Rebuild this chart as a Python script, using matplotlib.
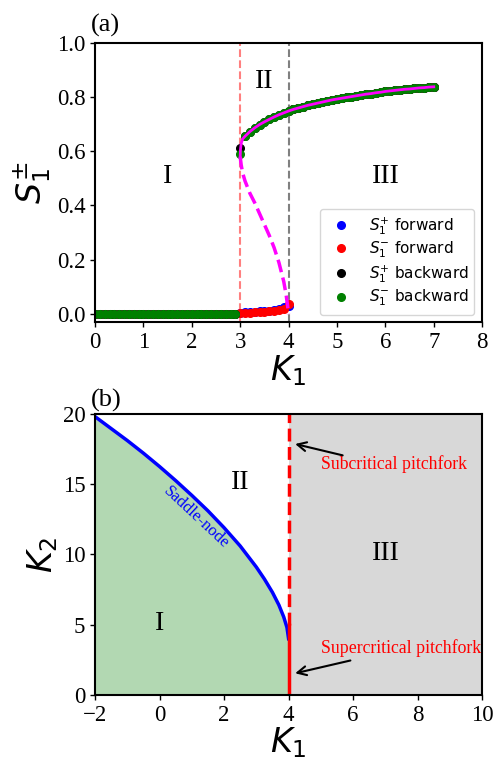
import matplotlib
matplotlib.use('Agg')
import matplotlib.pyplot as plt

# ---- panel (a): order parameter vs K1 ----
k_grid = [0.0, 0.1, 0.2, 0.3, 0.4, 0.5, 0.6, 0.7, 0.8, 0.9,
          1.0, 1.1, 1.2, 1.3, 1.4, 1.5, 1.6, 1.7, 1.8, 1.9,
          2.0, 2.1, 2.2, 2.3, 2.4, 2.5, 2.6, 2.7, 2.8, 2.9,
          3.0, 3.1, 3.2, 3.3, 3.4, 3.5, 3.6, 3.7, 3.8, 3.9,
          4.0, 4.1, 4.2, 4.3, 4.4, 4.5, 4.6, 4.7, 4.8, 4.9,
          5.0, 5.1, 5.2, 5.3, 5.4, 5.5, 5.6, 5.7, 5.8, 5.9,
          6.0, 6.1, 6.2, 6.3, 6.4, 6.5, 6.6, 6.7, 6.8, 6.9, 7.0]

# upper (synchronised) branch, K1 = 3.0 ... 7.0
s_upper = [0.600, 0.655, 0.672, 0.686, 0.698, 0.708, 0.717, 0.726, 0.734, 0.741,
           0.748, 0.754, 0.759, 0.764, 0.769, 0.773, 0.777, 0.781, 0.785, 0.789,
           0.792, 0.795, 0.798, 0.801, 0.804, 0.807, 0.810, 0.812, 0.815, 0.817,
           0.820, 0.822, 0.824, 0.826, 0.828, 0.829, 0.831, 0.833, 0.834, 0.836, 0.837]
# forward sweep, lower branch, K1 = 3.0 ... 4.0
s_plus_fwd_low = [0.004, 0.006, 0.007, 0.008, 0.010, 0.011, 0.013, 0.016, 0.019, 0.026, 0.030]
s_minus_fwd_low = [0.003, 0.004, 0.005, 0.006, 0.007, 0.008, 0.010, 0.012, 0.015, 0.020, 0.038]
s_plus_fold, s_minus_fold = 0.61, 0.59
n_zero = 30  # K1 = 0.0 ... 2.9 all at zero

s_plus_fwd = [0.0] * n_zero + s_plus_fwd_low + s_upper[11:]
s_minus_fwd = [0.0] * n_zero + s_minus_fwd_low + s_upper[11:]
s_plus_bwd = [0.0] * n_zero + [s_plus_fold] + s_upper[1:]
s_minus_bwd = [0.0] * n_zero + [s_minus_fold] + s_upper[1:]

# theory: stable upper branch and unstable branch
k_fold = [3.0, 3.005, 3.02, 3.05]
s_fold = [0.58, 0.605, 0.628, 0.645]
k_unst = [3.0, 3.02, 3.05, 3.1, 3.2, 3.3, 3.4, 3.5, 3.6, 3.7, 3.8, 3.9, 3.95, 3.98, 4.0]
s_unst = [0.58, 0.55, 0.52, 0.49, 0.445, 0.41, 0.37, 0.33, 0.29, 0.245, 0.19, 0.12, 0.07, 0.03, 0.0]

# ---- panel (b): phase diagram ----
k1_sn = [-2.0, -1.5, -1.0, -0.5, 0.0, 0.5, 1.0, 1.5, 2.0, 2.5, 3.0, 3.25, 3.5, 3.7, 3.85, 3.95, 4.0]
k2_sn = [19.8, 18.95, 18.1, 17.2, 16.25, 15.25, 14.2, 13.1, 11.9, 10.6, 9.1, 8.25, 7.3, 6.4, 5.55, 4.8, 4.0]
k1_pitch = 4.0
k2_sub = [5.0, 20.0]
k2_super = [0.0, 5.0]

serif = 'Liberation Serif'
tick_fs = 16.5

fig = plt.figure(figsize=(4.95, 7.6), dpi=100)
ax1 = fig.add_axes([0.192, 0.576, 0.782, 0.368])
ax2 = fig.add_axes([0.192, 0.0855, 0.782, 0.370])

for ax in (ax1, ax2):
    for sp in ax.spines.values():
        sp.set_linewidth(1.5)
    ax.tick_params(width=1.0)

# (a)
ax1.axvline(3, color='red', alpha=0.5, ls='--', lw=1.5)
ax1.axvline(4, color='gray', ls='--', lw=1.5)
ms = 5.5
ax1.plot(k_grid, s_plus_fwd, 'o', ls='none', color='blue', ms=ms, label='$S_1^{+}$ forward')
ax1.plot(k_grid, s_minus_fwd, 'o', ls='none', color='red', ms=ms, label='$S_1^{-}$ forward')
ax1.plot(k_grid[::-1], s_plus_bwd[::-1], 'o', ls='none', color='black', ms=ms, label='$S_1^{+}$ backward')
ax1.plot(k_grid[::-1], s_minus_bwd[::-1], 'o', ls='none', color='green', ms=ms, label='$S_1^{-}$ backward')
ax1.plot(k_fold + k_grid[31:], s_fold + s_upper[1:], color='magenta', lw=2)
ax1.plot(k_unst, s_unst, color='magenta', ls='--', lw=2.5)
ax1.set_xlim(0, 8)
ax1.set_ylim(-0.03, 1.0)
ax1.set_xticks(range(0, 9))
ax1.set_yticks([0.0, 0.2, 0.4, 0.6, 0.8, 1.0])
ax1.set_xticklabels([str(v) for v in range(0, 9)], fontfamily=serif, fontsize=tick_fs)
ax1.set_yticklabels(['0.0', '0.2', '0.4', '0.6', '0.8', '1.0'], fontfamily=serif, fontsize=tick_fs)
ax1.set_xlabel('$K_1$', fontsize=24, labelpad=0)
ax1.set_ylabel('$S_1^{\\pm}$', fontsize=24, labelpad=2)
ax1.legend(loc='lower right', fontsize=11, labelspacing=0.2)
ax1.text(1.49, 0.506, 'I', fontsize=20, fontfamily=serif, ha='center', va='center')
ax1.text(3.5, 0.858, 'II', fontsize=20, fontfamily=serif, ha='center', va='center')
ax1.text(6.0, 0.506, 'III', fontsize=20, fontfamily=serif, ha='center', va='center')
ax1.text(-0.01, 1.02, '(a)', transform=ax1.transAxes, fontsize=19, fontfamily=serif,
         ha='left', va='bottom')

# (b)
ax2.fill_between(k1_sn, 0, k2_sn, color='green', alpha=0.3, lw=0)
ax2.axvspan(4, 10, color='gray', alpha=0.3, lw=0)
ax2.plot(k1_sn, k2_sn, color='blue', lw=2.5)
ax2.plot([k1_pitch, k1_pitch], k2_sub, color='red', ls='--', lw=2.5)
ax2.plot([k1_pitch, k1_pitch], k2_super, color='red', lw=2.5)
ax2.set_xlim(-2, 10)
ax2.set_ylim(0, 20)
ax2.set_xticks([-2, 0, 2, 4, 6, 8, 10])
ax2.set_xticklabels(['\u22122', '0', '2', '4', '6', '8', '10'], fontfamily=serif, fontsize=tick_fs)
ax2.set_yticks([0, 5, 10, 15, 20])
ax2.set_yticklabels(['0', '5', '10', '15', '20'], fontfamily=serif, fontsize=tick_fs)
ax2.set_xlabel('$K_1$', fontsize=24, labelpad=0)
ax2.set_ylabel('$K_2$', fontsize=24, labelpad=2)
ax2.text(1.12, 12.6, 'Saddle-node', color='blue', fontsize=12, fontfamily=serif,
         rotation=-43, ha='center', va='center', rotation_mode='anchor')
ax2.text(0.0, 5.1, 'I', fontsize=20, fontfamily=serif, ha='center', va='center')
ax2.text(2.5, 15.1, 'II', fontsize=20, fontfamily=serif, ha='center', va='center')
ax2.text(7.0, 10.1, 'III', fontsize=20, fontfamily=serif, ha='center', va='center')
ax2.text(5.0, 16.4, 'Subcritical pitchfork', color='red', fontsize=12.8, fontfamily=serif,
         ha='left', va='center')
ax2.text(5.0, 3.35, 'Supercritical pitchfork', color='red', fontsize=12.8, fontfamily=serif,
         ha='left', va='center')
arrow = dict(arrowstyle='->', color='black', lw=1.5, mutation_scale=16)
ax2.annotate('', xy=(4.12, 17.9), xytext=(5.76, 17.0), arrowprops=arrow)
ax2.annotate('', xy=(4.12, 1.5), xytext=(6.0, 2.5), arrowprops=arrow)
ax2.text(-0.01, 1.005, '(b)', transform=ax2.transAxes, fontsize=19, fontfamily=serif,
         ha='left', va='bottom')

fig.savefig('out.png', dpi=100)
